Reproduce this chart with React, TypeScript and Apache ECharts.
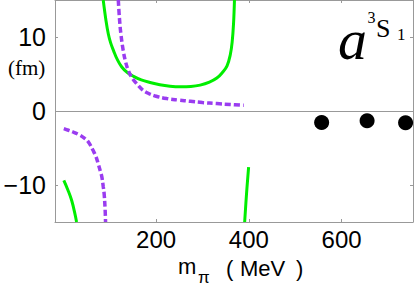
import React, { useEffect, useRef } from "react";
import * as echarts from "echarts";

const xTicks = [200, 400, 600];
const yTicks = [-10, 0, 10];

const greenUpper = [
  [86, 15], [92, 12.2], [97, 10.4], [102, 9.2], [108, 8.2], [116, 7.0], [126, 5.95], [138, 5.2],
  [151, 4.7], [168, 4.2], [187, 3.85], [208, 3.55], [230, 3.36], [252, 3.28], [275, 3.32],
  [295, 3.5], [315, 3.9], [331, 4.45], [343, 5.2], [353, 6.1], [360, 7.6], [364, 9.3], [367, 11.8], [369, 15],
];
const greenLowerLeft = [[1, -9.37], [10, -10.7], [18, -12.1], [25, -13.9], [28.5, -15]];
const greenLowerRight = [[391, -15], [395, -11.2], [399.5, -7.6]];
const purpleUpper = [
  [118.5, 15], [121, 12.5], [124, 10.46], [129, 8.2], [134, 6.7], [140, 5.5], [148, 4.5], [158, 3.7],
  [170, 2.9], [183, 2.4], [200, 2.0], [223, 1.68], [248, 1.48], [274, 1.31], [300, 1.14], [331, 1.0],
  [360, 0.88], [389, 0.77],
];
const purpleLower = [
  [1, -2.38], [11, -2.6], [21, -2.84], [36, -3.28], [46, -3.7], [54, -4.19], [64, -5.31], [70, -6.1],
  [75, -7.1], [80, -8.2], [83, -8.9], [86, -10.2], [88, -11.2], [90, -13.2], [91, -15],
];
const latticePoints = [[557, -1.55], [655, -1.32], [738, -1.6]];

const GREEN = "#00ee00";
const PURPLE = "#9a3cf0";
const AXIS = "#999999";
const SANS = "Liberation Sans";
const SERIF = "Liberation Serif";

const txt = (
  text: string,
  x: number,
  y: number,
  fontSize: number,
  fontFamily: string,
  fontStyle: string = "normal"
) => ({
  type: "text",
  x,
  y,
  style: { text, fontSize, fontFamily, fontStyle, fill: "#000", verticalAlign: "middle", align: "left" },
});

export default function App() {
  const ref = useRef<HTMLDivElement>(null);
  useEffect(() => {
    if (!ref.current) return;
    const chart = echarts.init(ref.current, null, { renderer: "svg" });
    const lineS = (data: number[][], color: string, dashed: boolean) => ({
      type: "line",
      data,
      smooth: 0.4,
      symbol: "none",
      clip: true,
      lineStyle: { color, width: dashed ? 3.5 : 3, type: dashed ? [6, 3] : "solid" },
      z: 3,
    });
    const xBase = {
      type: "value",
      min: -18,
      max: 754,
      splitLine: { show: false },
      axisLine: { show: true, onZero: false, lineStyle: { color: AXIS, width: 1 } },
      axisTick: { show: true, inside: true, length: 3, customValues: xTicks, lineStyle: { color: AXIS } },
    };
    const yBase = {
      type: "value",
      min: -15,
      max: 15,
      splitLine: { show: false },
      axisLine: { show: true, onZero: false, lineStyle: { color: AXIS, width: 1 } },
      axisTick: { show: true, inside: true, length: 3, customValues: yTicks, lineStyle: { color: AXIS } },
    };
    chart.setOption({
      animation: false,
      grid: { left: 55, right: 2, top: 0, bottom: 67, containLabel: false },
      xAxis: [
        {
          ...xBase,
          position: "bottom",
          axisLabel: {
            show: true,
            customValues: xTicks,
            margin: 5,
            fontSize: 24,
            color: "#000",
            fontFamily: SANS,
          },
        },
        { ...xBase, position: "top", axisLabel: { show: false } },
      ],
      yAxis: [
        {
          ...yBase,
          position: "left",
          axisLabel: {
            show: true,
            customValues: yTicks,
            margin: 9,
            fontSize: 25,
            color: "#000",
            fontFamily: SANS,
            formatter: (v: number) => (v < 0 ? "\u2212" + Math.abs(v) : String(v)),
          },
        },
        { ...yBase, position: "right", axisLabel: { show: false } },
      ],
      series: [
        {
          ...lineS(greenUpper, GREEN, false),
          markLine: {
            silent: true,
            symbol: "none",
            label: { show: false },
            lineStyle: { color: AXIS, width: 1, type: "solid" },
            data: [{ yAxis: 0 }],
            z: 1,
          },
        },
        lineS(greenLowerLeft, GREEN, false),
        lineS(greenLowerRight, GREEN, false),
        lineS(purpleUpper, PURPLE, true),
        lineS(purpleLower, PURPLE, true),
        {
          type: "scatter",
          data: latticePoints,
          symbol: "circle",
          symbolSize: 15,
          itemStyle: { color: "#000", opacity: 1 },
          z: 4,
        },
      ],
      graphic: [
        txt("(fm)", 8, 68, 21, SERIF),
        txt("m", 178, 266, 22, SANS),
        txt("\u03c0", 198, 277, 17, SANS),
        txt("(", 226, 268, 22, SANS),
        txt("MeV", 240, 268, 22, SANS),
        txt(")", 296, 268, 22, SANS),
        txt("a", 338, 39, 58, SERIF, "italic"),
        txt("3", 367.5, 17, 16, SERIF),
        txt("S", 376, 28, 26, SERIF),
        txt("1", 397, 34.5, 17, SERIF),
      ],
    });
    return () => chart.dispose();
  }, []);
  return (
    <div
      ref={ref}
      style={{ position: "absolute", left: 0, top: 0, width: 415, height: 289, background: "#fff" }}
    />
  );
}
